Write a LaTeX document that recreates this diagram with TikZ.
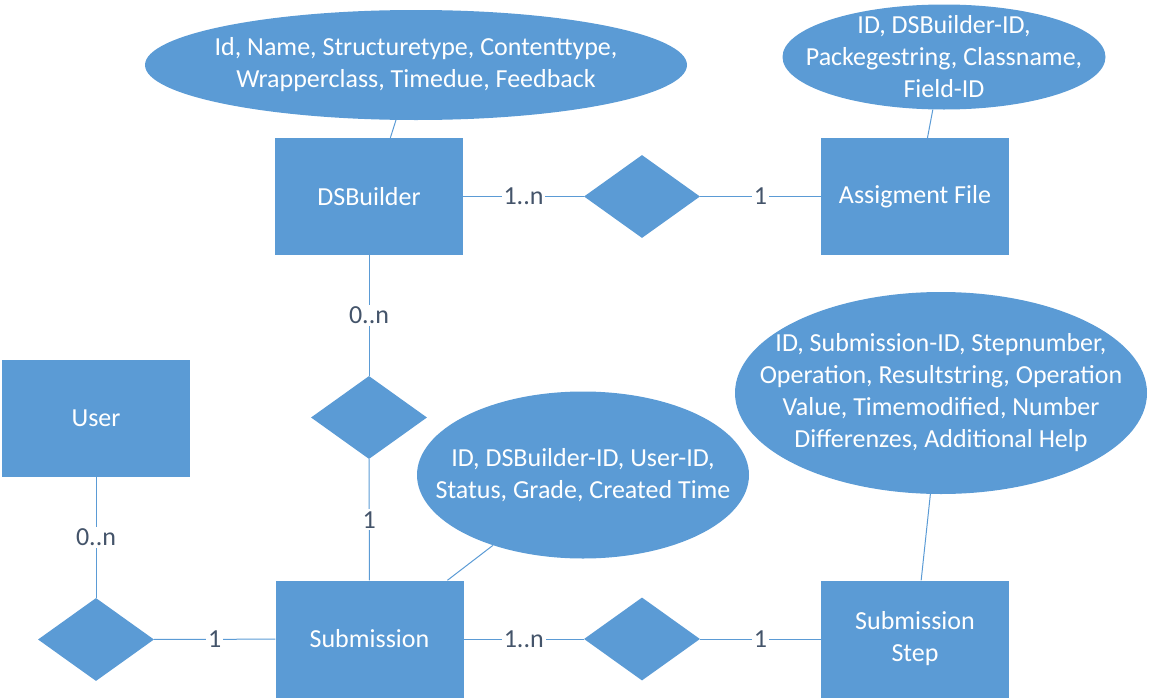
\documentclass[tikz,border=0pt]{standalone}
\usepackage{fontspec}
\setmainfont{Carlito}
\usepackage{xcolor}
\usetikzlibrary{shapes.geometric}
\definecolor{erblue}{HTML}{5B9BD5}
\definecolor{erlabel}{HTML}{44546A}

\begin{document}
\begin{tikzpicture}[x=1pt,y=-1pt,
    every node/.style={font=\fontsize{26}{32}\selectfont},
    entity/.style={rectangle,fill=erblue,text=white,minimum width=188pt,minimum height=117pt,align=center,inner sep=0pt},
    relation/.style={diamond,fill=erblue,minimum width=116pt,minimum height=83pt,inner sep=0pt},
    attribs/.style={ellipse,fill=erblue,inner sep=0pt},
    attrtext/.style={text=white,align=center,inner sep=0pt},
    link/.style={erblue,line width=1pt},
    card/.style={fill=white,text=erlabel,inner sep=2pt}]
            \useasboundingbox (0,0) rectangle (1149,699);
            \node[attribs,minimum width=542pt,minimum height=110pt] (dsbattr) at (416,65) {};
            \node[attrtext] at (dsbattr) {Id, Name, Structuretype, Contenttype,\\Wrapperclass, Timedue, Feedback};
            \node[attribs,minimum width=323pt,minimum height=105pt] (fileattr) at (944,57) {};
            \node[attrtext] at (fileattr) {ID, DSBuilder-ID,\\Packegestring, Classname,\\Field-ID};
            \node[attribs,minimum width=332pt,minimum height=167pt] (subattr) at (583,475) {};
            \node[attrtext] at (subattr) {ID, DSBuilder-ID, User-ID,\\Status, Grade, Created Time};
            \node[attribs,minimum width=412pt,minimum height=202pt] (stepattr) at (941,393) {};
            \node[attrtext] at (stepattr) {ID, Submission-ID, Stepnumber,\\Operation, Resultstring, Operation\\Value, Timemodified, Number\\Differenzes, Additional Help};
            \node[entity] (dsb) at (369,196.5) {DSBuilder};
            \node[entity] (file) at (915,196.5) {Assigment File};
            \node[entity] (user) at (96,418) {User};
            \node[entity] (sub) at (369.5,639) {Submission};
            \node[entity] (step) at (915,639) {Submission\\Step};
            \node[relation] (dsbfile) at (642,196.5) {};
            \node[relation] (dsbsub) at (369,417.5) {};
            \node[relation] (usersub) at (96,639.5) {};
            \node[relation] (substep) at (642,639) {};
            \draw[link] (dsb) -- node[card]{1..n} (dsbfile);
            \draw[link] (dsbfile) -- node[card]{1} (file);
            \draw[link] (dsb) -- node[card]{0..n} (dsbsub);
            \draw[link] (dsbsub) -- node[card]{1} (sub);
            \draw[link] (user) -- node[card]{0..n} (usersub);
            \draw[link] (usersub) -- node[card]{1} (sub);
            \draw[link] (sub) -- node[card]{1..n} (substep);
            \draw[link] (substep) -- node[card]{1} (step);
            \draw[link] (dsbattr.-110) -- (dsb.70);
            \draw[link] (fileattr.-102) -- (file.78);
            \draw[link] (subattr.-142) -- (sub.37);
            \draw[link] (stepattr.-96) -- (step.84);
        \end{tikzpicture}
\end{document}
